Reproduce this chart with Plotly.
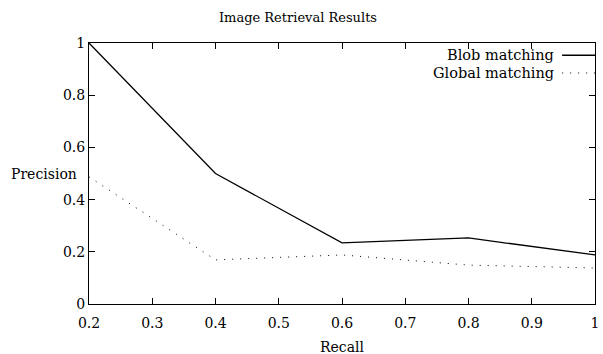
import plotly.graph_objects as go

recall = [0.2, 0.4, 0.6, 0.8, 1.0]
blob_precision = [1.0, 0.5, 0.234, 0.253, 0.188]
global_precision = [0.487, 0.169, 0.188, 0.149, 0.138]
series_names = ["Blob matching", "Global matching"]
x_ticks = [0.2, 0.3, 0.4, 0.5, 0.6, 0.7, 0.8, 0.9, 1.0]
x_tick_labels = ["0.2", "0.3", "0.4", "0.5", "0.6", "0.7", "0.8", "0.9", "1"]
y_ticks = [0, 0.2, 0.4, 0.6, 0.8, 1.0]
y_tick_labels = ["0", "0.2", "0.4", "0.6", "0.8", "1"]

FONT = "DejaVu Serif, Liberation Serif, serif"

fig = go.Figure()
fig.add_trace(go.Scatter(x=recall, y=blob_precision, mode="lines", name=series_names[0],
                         line=dict(color="black", width=1.3), showlegend=False))
fig.add_trace(go.Scatter(x=recall, y=global_precision, mode="lines", name=series_names[1],
                         line=dict(color="black", width=1, dash="1px,7px"), showlegend=False))

# gnuplot-style legend: text right-aligned, sample to the right
legend_y = [0.953, 0.885]
styles = [dict(color="black", width=1.3), dict(color="black", width=1, dash="1px,7px")]
for name, ly, st in zip(series_names, legend_y, styles):
    fig.add_annotation(x=0.923, y=ly, xref="paper", yref="paper", text=name, showarrow=False,
                       xanchor="right", yanchor="middle", font=dict(family=FONT, size=14.5, color="black"))
    fig.add_shape(type="line", xref="paper", yref="paper", x0=0.935, x1=1.0, y0=ly, y1=ly, line=st)

fig.add_annotation(x=-0.158, y=0.5, xref="paper", yref="paper", text="Precision", showarrow=False,
                   xanchor="left", yanchor="middle", font=dict(family=FONT, size=14, color="black"))
fig.add_annotation(x=0.5, y=-(347 - 304) / 261, xref="paper", yref="paper", text="Recall", showarrow=False,
                   xanchor="center", yanchor="middle", font=dict(family=FONT, size=14, color="black"))

axis_common = dict(showgrid=False, zeroline=False, showline=True, linecolor="black", linewidth=1,
                   mirror="allticks", ticks="inside", ticklen=6, tickcolor="black", tickwidth=1,
                   tickfont=dict(family=FONT, size=14, color="black"), ticklabeloverflow="allow")

fig.update_layout(
    width=603, height=354,
    margin=dict(l=89, r=4, t=43, b=50),
    paper_bgcolor="white", plot_bgcolor="white",
    title=dict(text="Image Retrieval Results", x=298 / 603, xanchor="center",
               y=1 - 17 / 354, yanchor="middle", font=dict(family=FONT, size=13, color="black")),
    xaxis=dict(range=[0.2, 1.0], tickvals=x_ticks, ticktext=x_tick_labels, ticklabelstandoff=6, **axis_common),
    yaxis=dict(range=[0, 1.0], tickvals=y_ticks, ticktext=y_tick_labels, **axis_common),
)

fig.write_html("out.html", config={"displayModeBar": False},
               post_script="document.body.style.margin='0';document.body.style.overflow='hidden';")
